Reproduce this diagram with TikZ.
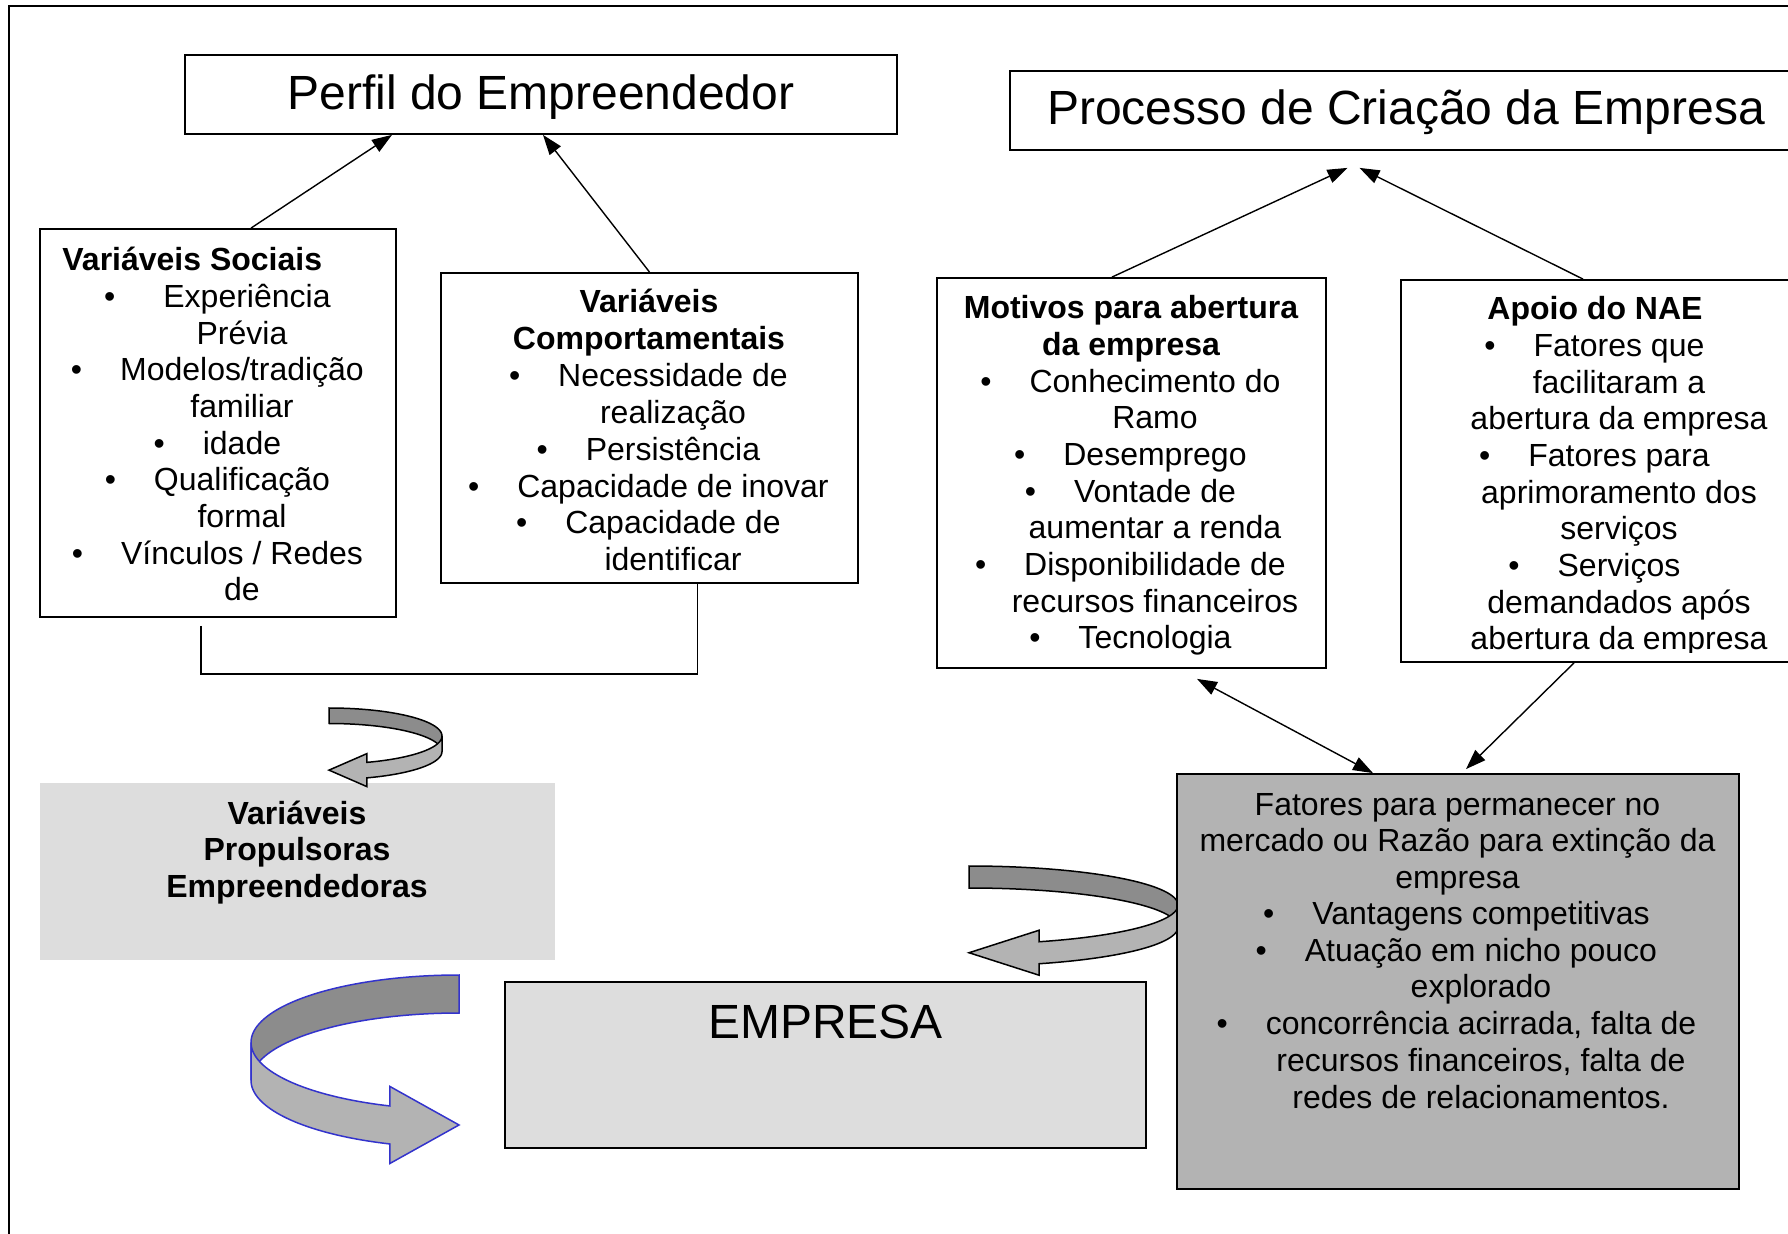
\documentclass[tikz,border=0pt]{standalone}
\usepackage{fontspec}
\setmainfont{Liberation Sans}
\usetikzlibrary{arrows.meta, fit, calc}
\definecolor{myribbondark}{RGB}{140,140,140}
\definecolor{myribbonlight}{RGB}{179,179,179}
\definecolor{myboxlight}{RGB}{221,221,221}
\definecolor{myboxdark}{RGB}{179,179,179}
\definecolor{myribbonblue}{RGB}{51,51,204}
\newcommand{\bul}{\llap{\textbullet\hspace{19pt}}}
% curved ribbon arrow: #1 tail x, #2 centre y, #3 x radius (signed), #4 y radius,
% #5 band thickness, #6 angle at the head, #7 half width of the head, #8 outline
\newcommand{\ribbon}[8]{%
    \draw[ribbonback, draw=#8]
        plot[domain=-90:0] ({#1+#3*cos(\x)}, {#2+#4*sin(\x)})
        -- plot[domain=0:90] ({#1+#3*cos(\x)}, {#2+#5-#4*sin(\x)}) -- cycle;
    \draw[ribbonfront, draw=#8]
        plot[domain=0:#6] ({#1+#3*cos(\x)}, {#2+#4*sin(\x)})
        -- ({#1+#3*cos(#6)}, {#2+#4*sin(#6)+#5/2-#7})
        -- ({#1}, {#2+#4*sin(#6)+#5/2})
        -- ({#1+#3*cos(#6)}, {#2+#4*sin(#6)+#5/2+#7})
        -- plot[domain=0:#6] ({#1+#3*cos(#6-\x)}, {#2+#5+#4*sin(#6-\x)}) -- cycle;
}
\tikzset{
    common/.style={rectangle, inner sep=0pt},
    box/.style={common, draw, line width=0.9pt},
    shadebox/.style={common, fill=myboxlight},
    txt/.style={inner sep=0pt, anchor=base, align=center, font=\fontsize{16}{18.35}\selectfont},
    head/.style={txt, font=\fontsize{16}{18.35}\selectfont\bfseries},
    big/.style={inner sep=0pt, anchor=base, font=\fontsize{24}{27.6}\selectfont},
    link/.style={->, >={Triangle[length=10pt, width=7pt]}, line width=0.7pt},
    ribbonback/.style={fill=myribbondark, line width=0.75pt, samples=40},
    ribbonfront/.style={fill=myribbonlight, line width=0.75pt, samples=40}
}

\begin{document}
\begin{tikzpicture}[x=0.5pt, y=-0.5pt]
    \useasboundingbox (0,0) rectangle (1788,1234);
    \clip (0,0) rectangle (1788,1234);
    \draw[line width=1pt] (9,1240) -- (9,6) -- (1800,6);

    % curved arrow behind the dark box
    \ribbon{969}{905}{209}{39}{22}{70.4}{22.5}{black}

    \node[box, fit={(185,55) (897,134)}] (perfil) {};
    \node[box, fit={(1010,71) (1805,150)}] (processo) {};
    \node[box, fit={(40,229) (396,617)}] (sociais) {};
    \node[box, fit={(441,273) (858,583)}] (comport) {};
    \node[box, fit={(937,278) (1326,668)}] (motivos) {};
    \node[box, fit={(1401,280) (1805,662)}] (apoio) {};
    \node[shadebox, fit={(40,783) (555,960)}] (propuls) {};
    \node[box, fill=myboxlight, fit={(505,982) (1146,1148)}] (empresa) {};
    \node[box, fill=myboxdark, fit={(1177,774) (1739,1189)}] (fatores) {};

    \ribbon{329}{736}{113}{28}{15.5}{70.4}{16.5}{black}
    \ribbon{459}{1042.4}{-208}{67.4}{38}{70.6}{38.5}{myribbonblue}

    % multi-line texts sit on the baseline of their last line
    \node[big] (perfilT) at (541,110) {Perfil do Empreendedor};
    \node[big] (processoT) at (1406,125) {Processo de Criação da Empresa};
    \node[big] (empresaT) at (825.5,1038) {EMPRESA};

    \node[head, anchor=base west] (sociaisT) at (62,271) {Variáveis Sociais};
    \node[txt] (sociaisL) at (242,601) {\bul\hspace{5pt}Experiência\\Prévia\\\bul Modelos/tradição\\familiar\\\bul idade\\\bul Qualificação\\formal\\\bul Vínculos / Redes\\de};

    \node[head] (comportT) at (649,349.7) {Variáveis\\Comportamentais};
    \node[txt] (comportL) at (673,570.5) {\bul Necessidade de\\realização\\\bul Persistência\\\bul Capacidade de inovar\\\bul Capacidade de\\identificar};

    \node[head] (motivosT) at (1131,355.7) {Motivos para abertura\\da empresa};
    \node[txt] (motivosL) at (1155,649) {\bul Conhecimento do\\Ramo\\\bul Desemprego\\\bul Vontade de\\aumentar a renda\\\bul Disponibilidade de\\recursos financeiros\\\bul Tecnologia};

    \node[head] (apoioT) at (1595,320) {Apoio do NAE};
    \begin{scope}
        \clip (apoio.north west) rectangle ($(apoio.south east)+(0,-10)$);
        \node[txt] (apoioL) at (1619,650) {\bul Fatores que\\facilitaram a\\abertura da empresa\\\bul Fatores para\\aprimoramento dos\\serviços\\\bul Serviços\\demandados após\\abertura da empresa};
    \end{scope}

    \node[head] (propulsT) at (297,897.4) {Variáveis\\Propulsoras\\Empreendedoras};

    \node[txt] (fatoresT) at (1457.5,888.4) {Fatores para permanecer no\\mercado ou Razão para extinção da\\empresa};
    \node[txt] (fatoresL) at (1481,1108) {\bul Vantagens competitivas\\\bul Atuação em nicho pouco\\explorado\\\bul concorrência acirrada, falta de\\recursos financeiros, falta de\\redes de relacionamentos.};

    \draw[link] ($(sociais.north)+(33,0)$) -- ($(perfil.south)+(-149,0)$);
    \draw[link] (comport.north) -- ($(perfil.south)+(2,0)$);
    \draw[link] ($(motivos.north)+(-19.5,0)$) -- ($(processo.south)+(-60,17)$);
    \draw[link] ($(apoio.north)+(-20,0)$) -- ($(processo.south)+(-48,17)$);
    \draw[link, <->] ($(motivos.south)+(65.5,10)$) -- ($(fatores.north)+(-85,0)$);
    \draw[link] ($(apoio.south)+(-29,0)$) -- ($(fatores.north)+(8,-4)$);

    \coordinate (brkL) at (201,626);
    \coordinate (brkR) at (697.5,674);
    \draw[line width=0.9pt] (brkL) |- (brkR) -- (brkR |- comport.south);
\end{tikzpicture}
\end{document}
